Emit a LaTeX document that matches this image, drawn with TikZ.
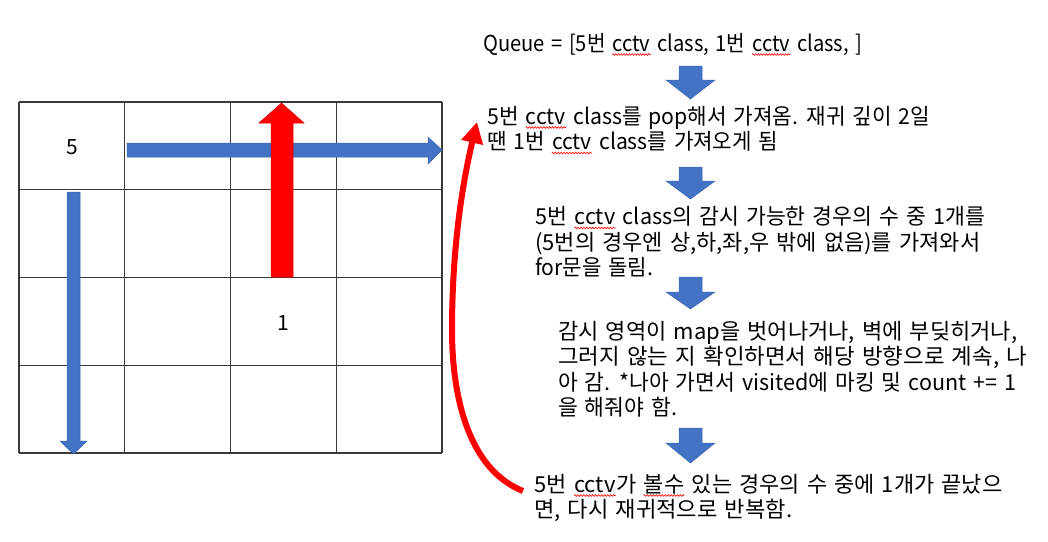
\documentclass[tikz,border=0pt]{standalone}
\usepackage{graphicx}
\usepackage{fontspec}
\setmainfont[WordSpace=1.45]{Noto Sans CJK KR}
\usetikzlibrary{arrows.meta,decorations.pathmorphing}
\definecolor{oblue}{HTML}{4472C4}
\definecolor{oblueline}{HTML}{3A66B4}
\definecolor{gridc}{HTML}{3A3A3A}
\newcommand\sq[1]{\tikz[baseline=(sqw.base),x=1pt,y=1pt]{\node[inner sep=0pt,anchor=base west] (sqw) {#1};
  \draw[red,line width=0.6pt,decorate,decoration={zigzag,amplitude=0.9pt,segment length=3pt}] ([yshift=-3.5pt]sqw.base west) -- ([yshift=-3.5pt]sqw.base east);}}
\newcommand\fitw[2]{\resizebox{#1pt}{\height}{#2}}
\begin{document}
\begin{tikzpicture}[x=1pt,y=-1pt,
  txt/.style={anchor=base west,inner sep=0pt,font=\fontsize{22}{26}\selectfont},
  num/.style={inner sep=0pt,font=\fontsize{21}{24}\selectfont},
  gridline/.style={draw=gridc,line width=1.2pt},
  bluearrow/.style={fill=oblue,draw=oblueline,line width=0.5pt},
  redarrow/.style={fill=red,draw=red!85!black,line width=0.5pt},
  loopline/.style={draw=red,line width=6pt,-{Triangle[width=21pt,length=21pt]}}]
\useasboundingbox (0,0) rectangle (1048,541);
\fill[white] (0,0) rectangle (1048,541);

% grid
\foreach \x in {19,124.75,230.5,336.25,442} \draw[gridline] (\x,102) -- (\x,453);
\foreach \y in {102,189.75,277.5,365.25,453} \draw[gridline] (19,\y) -- (442,\y);
\node[num] (n5) at (72,147) {5};
\node[num] (n1) at (283,323) {1};

% blue arrows in grid
\path[bluearrow] (127,143) -- (428,143) -- (428,137) -- (442,150) -- (428,164) -- (428,157) -- (127,157) -- cycle;
\path[bluearrow] (67,192) -- (80,192) -- (80,441) -- (87,441) -- (73.5,454) -- (60,441) -- (67,441) -- cycle;
% red arrow in grid
\path[redarrow] (271,277) -- (271,123) -- (259,123) -- (281.5,103) -- (304,123) -- (293,123) -- (293,277) -- cycle;

% text blocks
\node[txt] (q) at (483,51) {\fitw{379}{Queue = [5번 \sq{cctv} class, 1번 \sq{cctv} class, ]}};
\node[txt] (b1a) at (487,124) {\fitw{443}{5번 \sq{cctv} class를 pop해서 가져옴. 재귀 깊이 2일}};
\node[txt] (b1b) at (487,149.5) {\fitw{291}{땐 1번 \sq{cctv} class를 가져오게 됨}};
\node[txt] (b2a) at (535,224.5) {\fitw{450}{5번 \sq{cctv} class의 감시 가능한 경우의 수 중 1개를}};
\node[txt] (b2b) at (535,250) {\fitw{445}{(5번의 경우엔 상,하,좌,우 밖에 없음)를 가져와서}};
\node[txt] (b2c) at (535,275.5) {\fitw{118}{for문을 돌림.}};
\node[txt] (b3a) at (558,339) {\fitw{459}{감시 영역이 map을 벗어나거나, 벽에 부딪히거나,}};
\node[txt] (b3b) at (558,364.5) {\fitw{469}{그러지 않는 지 확인하면서 해당 방향으로 계속, 나}};
\node[txt] (b3c) at (558,390) {\fitw{458}{아 감. *나아 가면서 visited에 마킹 및 count += 1}};
\node[txt] (b3d) at (558,415.5) {\fitw{119}{을 해줘야 함.}};
\node[txt] (b4a) at (534,492) {\fitw{468}{5번 \sq{cctv}가 \sq{볼수} 있는 경우의 수 중에 1개가 끝났으}};
\node[txt] (b4b) at (534,517) {\fitw{258}{면, 다시 재귀적으로 반복함.}};

% flow block arrows
\foreach \t/\h/\p in {66/80/99, 167/181/199, 277/292/309, 428/443/463}
  \path[bluearrow] (679,\t) -- (702,\t) -- (702,\h) -- (715,\h) -- (690.5,\p) -- (666,\h) -- (679,\h) -- cycle;

% loop-back arrow
\coordinate (ls) at (523,491);
\coordinate (le) at (477,122);
\draw[loopline] (ls) .. controls (470,470) and (452,400) .. (452,330) .. controls (452,250) and (462,185) .. (le);
\end{tikzpicture}
\end{document}
